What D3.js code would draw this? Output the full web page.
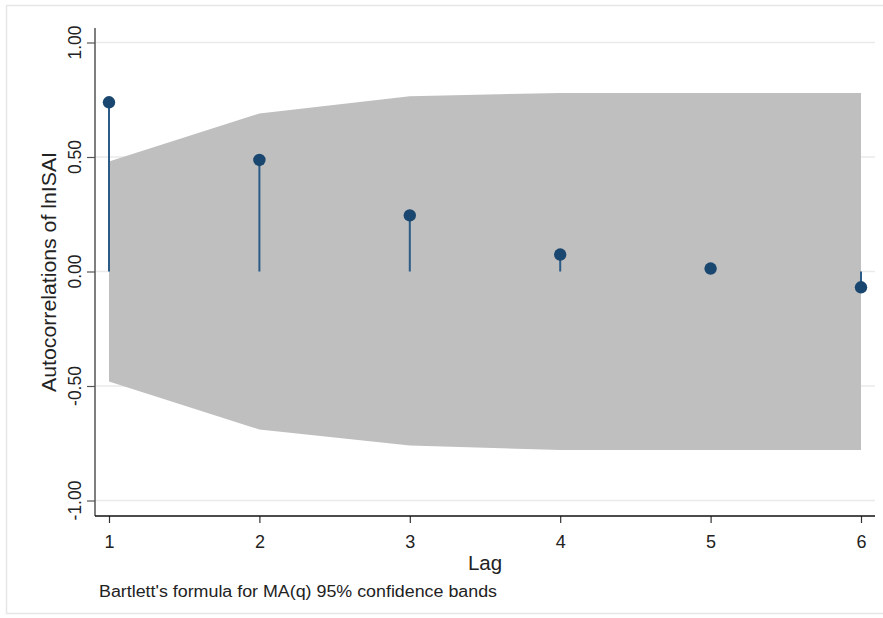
<!DOCTYPE html>
<html><head><meta charset="utf-8">
<script src="https://cdn.jsdelivr.net/npm/d3@7"></script>
<style>body{margin:0;background:#fff;}svg{display:block;font-family:"Liberation Sans",Arial,sans-serif;}</style>
</head><body>
<svg id="c" width="883" height="618"></svg>
<script>
const lags = [1, 2, 3, 4, 5, 6];
const acf = [0.739, 0.487, 0.245, 0.074, 0.013, -0.069];
const bandUpper = [0.48, 0.69, 0.765, 0.78, 0.78, 0.78];
const bandLower = [-0.48, -0.69, -0.76, -0.78, -0.78, -0.78];
const yTicks = [-1, -0.5, 0, 0.5, 1];
const xTicks = [1, 2, 3, 4, 5, 6];
const yTitle = "Autocorrelations of lnISAI";
const xTitle = "Lag";
const note = "Bartlett's formula for MA(q) 95% confidence bands";

const svg = d3.select("#c");
const navy = "#1a476f";

// outer frame
svg.append("rect").attr("x",6.5).attr("y",5.5).attr("width",900).attr("height",608)
  .attr("fill","none").attr("stroke","#e6e6e6").attr("stroke-width",1.5);

const x = d3.scaleLinear().domain([1,6]).range([109,861]);
const y = d3.scaleLinear().domain([-1,1]).range([500.5,42.5]);
const plotL = 95, plotR = 875, axisY = 516, plotTop = 28;
const fmtY = d => d3.format(".2f")(d).replace("\u2212","-");

// gridlines
svg.append("g").selectAll("line").data(yTicks).join("line")
  .attr("x1",plotL).attr("x2",plotR).attr("y1",d=>y(d)).attr("y2",d=>y(d))
  .attr("stroke","#eaeaea").attr("stroke-width",1.5);

// band
const area = d3.area().x((d,i)=>x(lags[i])).y0((d,i)=>y(bandLower[i])).y1((d,i)=>y(bandUpper[i]));
svg.append("path").datum(lags).attr("d",area).attr("fill","#bfbfbf");

// stems
svg.append("g").selectAll("line").data(lags).join("line")
  .attr("x1",d=>x(d)).attr("x2",d=>x(d)).attr("y1",y(0)).attr("y2",(d,i)=>y(acf[i]))
  .attr("stroke","#2b5b86").attr("stroke-width",2);
// markers
svg.append("g").selectAll("circle").data(lags).join("circle")
  .attr("cx",d=>x(d)).attr("cy",(d,i)=>y(acf[i])).attr("r",6.2).attr("fill",navy);

// y axis
const ya = svg.append("g").attr("transform",`translate(${plotL},0)`)
  .call(d3.axisLeft(y).tickValues(yTicks).tickFormat(fmtY).tickSize(8));
ya.select(".domain").remove();
ya.append("line").attr("x1",0).attr("x2",0).attr("y1",plotTop).attr("y2",axisY).attr("stroke","#555").attr("stroke-width",1.5);
ya.selectAll(".tick").attr("transform",null);
ya.selectAll(".tick line").attr("stroke","#555").attr("stroke-width",1.2)
  .attr("y1",d=>y(d)+0.5).attr("y2",d=>y(d)+0.5);
ya.selectAll(".tick text").attr("font-size",17.5).attr("fill","#222")
  .attr("x",null).attr("y",null).attr("dy",null).attr("text-anchor","middle")
  .attr("transform",d=>`translate(-14,${y(d)}) rotate(-90)`);

// x axis
const xa = svg.append("g").attr("transform",`translate(0,${axisY})`)
  .call(d3.axisBottom(x).tickValues(xTicks).tickFormat(d3.format("d")).tickSize(7));
xa.select(".domain").remove();
xa.append("line").attr("x1",plotL).attr("x2",plotR).attr("y1",0).attr("y2",0).attr("stroke","#111").attr("stroke-width",1.6);
xa.selectAll(".tick line").attr("stroke","#333").attr("stroke-width",1.2);
xa.selectAll(".tick text").attr("font-size",18).attr("fill","#222").attr("y",32).attr("dy",null);

// titles
svg.append("text").attr("transform",`translate(56,272) rotate(-90)`).attr("text-anchor","middle")
  .attr("font-size",20).attr("fill","#222").attr("textLength",240).attr("lengthAdjust","spacingAndGlyphs").text(yTitle);
svg.append("text").attr("x",485).attr("y",570).attr("text-anchor","middle")
  .attr("font-size",20.5).attr("fill","#222").text(xTitle);
svg.append("text").attr("x",99).attr("y",597).attr("font-size",16).attr("fill","#222")
  .attr("textLength",398).attr("lengthAdjust","spacingAndGlyphs").text(note);
</script>
</body></html>
